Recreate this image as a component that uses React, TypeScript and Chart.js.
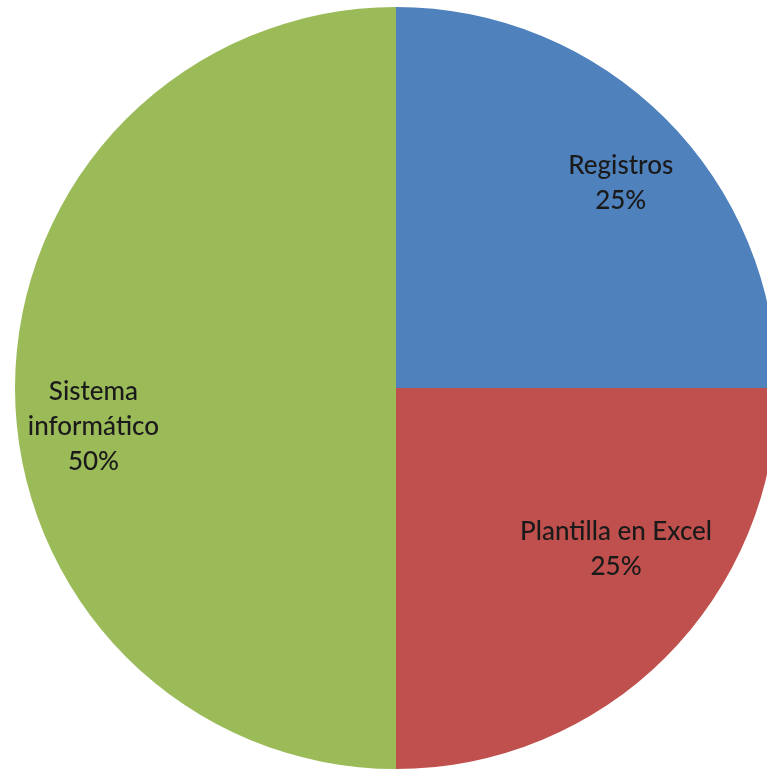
import React, { useEffect, useRef } from "react";
import { Chart, registerables } from "chart.js";

Chart.register(...registerables);

const categories = ["Registros", "Plantilla en Excel", "Sistema informático"];
const labelLines = [["Registros", "25%"], ["Plantilla en Excel", "25%"], ["Sistema", "informático", "50%"]];
const values = [25, 25, 50];
const colors = ["#4F81BD", "#C0504D", "#9BBB59"];
// label placement relative to each slice's middle angle (degrees) and radius fraction
const labelAngleShift = [2.5, -9, -7];
const labelRadiusFrac = [0.8, 0.714, 0.8];

const labelPlugin = {
  id: "sliceLabels",
  afterDatasetsDraw(chart: any) {
    const ctx = chart.ctx;
    const meta = chart.getDatasetMeta(0);
    ctx.save();
    ctx.font = "500 26px Lato";
    ctx.fillStyle = "#1a1a1a";
    ctx.textAlign = "center";
    ctx.textBaseline = "middle";
    const lh = 35;
    meta.data.forEach((arc: any, i: number) => {
      const p = arc.getProps(["x", "y", "startAngle", "endAngle", "outerRadius"], true);
      const mid = (p.startAngle + p.endAngle) / 2 + (labelAngleShift[i] * Math.PI) / 180;
      const r = p.outerRadius * labelRadiusFrac[i];
      const cx = p.x + Math.cos(mid) * r;
      const cy = p.y + Math.sin(mid) * r + 1;
      const lines = labelLines[i];
      lines.forEach((t, k) => {
        ctx.fillText(t, cx, cy + (k - (lines.length - 1) / 2) * lh);
      });
    });
    ctx.restore();
  },
};

export default function App() {
  const ref = useRef<HTMLCanvasElement>(null);
  useEffect(() => {
    document.body.style.margin = "0";
    document.body.style.overflow = "hidden";
    const chart = new Chart(ref.current!, {
      type: "pie",
      data: {
        labels: categories,
        datasets: [
          {
            data: values,
            backgroundColor: colors,
            borderWidth: 0,
          },
        ],
      },
      options: {
        responsive: false,
        animation: false,
        layout: { padding: 0 },
        plugins: { legend: { display: false }, tooltip: { enabled: false } },
      },
      plugins: [labelPlugin],
    });
    return () => chart.destroy();
  }, []);
  return (
    <div style={{ position: "fixed", left: 0, top: 0, width: 767, height: 769, overflow: "hidden", background: "#fff" }}>
      <canvas ref={ref} width={762} height={762} style={{ position: "absolute", left: 15, top: 7, width: 762, height: 762 }} />
    </div>
  );
}
